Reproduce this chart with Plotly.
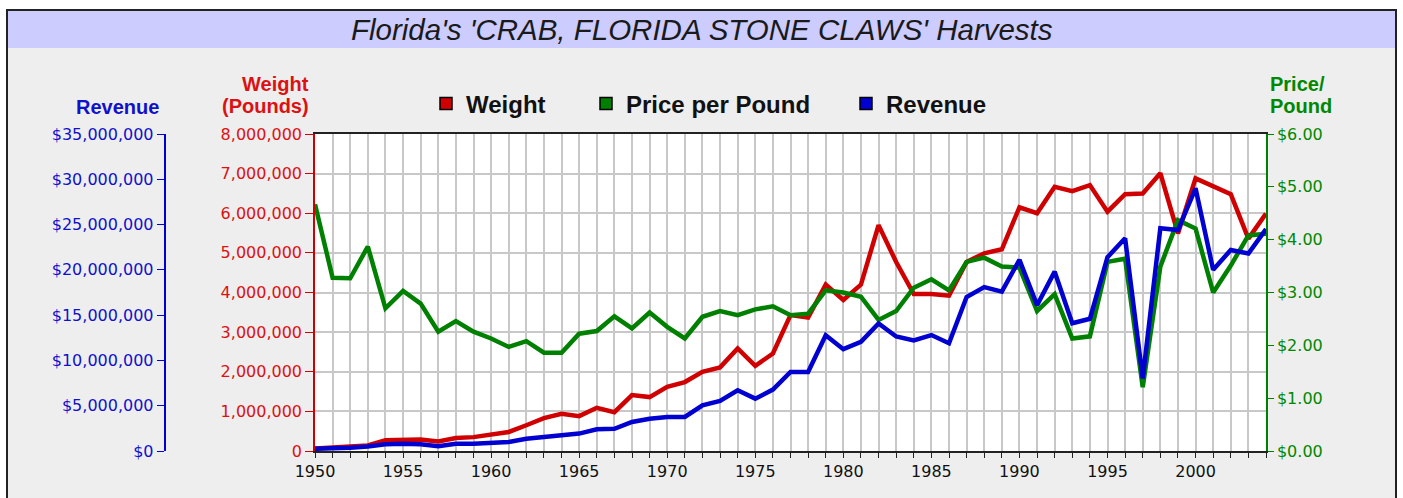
import plotly.graph_objects as go

# ---------------- data ----------------
years = list(range(1950, 2005))

weight_lbs_m = [0.06, 0.08, 0.12, 0.14, 0.27, 0.29, 0.29, 0.24, 0.33, 0.35,
                0.42, 0.48, 0.65, 0.83, 0.94, 0.88, 1.09, 0.98, 1.41, 1.36,
                1.62, 1.74, 2.00, 2.11, 2.59, 2.15, 2.46, 3.43, 3.37, 4.20,
                3.81, 4.20, 5.70, 4.77, 3.96, 3.96, 3.92, 4.77, 4.99, 5.09,
                6.15, 6.00, 6.67, 6.56, 6.71, 6.04, 6.48, 6.50, 7.01, 5.49,
                6.88, 6.69, 6.48, 5.36, 5.99]

price_per_lb = [4.67, 3.28, 3.27, 3.87, 2.70, 3.03, 2.79, 2.26, 2.46, 2.26,
                2.13, 1.97, 2.08, 1.86, 1.86, 2.22, 2.27, 2.55, 2.32, 2.62,
                2.35, 2.13, 2.54, 2.65, 2.57, 2.68, 2.74, 2.57, 2.60, 3.04,
                3.00, 2.92, 2.48, 2.65, 3.09, 3.25, 3.04, 3.58, 3.66, 3.49,
                3.47, 2.65, 2.97, 2.13, 2.17, 3.58, 3.64, 1.21, 3.49, 4.37,
                4.21, 3.00, 3.51, 4.08, 4.11]

revenue_m = [0.25, 0.25, 0.35, 0.50, 0.74, 0.81, 0.74, 0.52, 0.81, 0.81,
             0.92, 1.00, 1.36, 1.55, 1.73, 1.92, 2.40, 2.45, 3.20, 3.57,
             3.76, 3.76, 5.05, 5.53, 6.71, 5.78, 6.78, 8.73, 8.73, 12.79,
             11.24, 12.05, 14.08, 12.64, 12.20, 12.80, 11.90, 17.00, 18.10, 17.60,
             21.10, 16.10, 19.80, 14.10, 14.60, 21.40, 23.50, 8.00, 24.60, 24.40,
             29.00, 20.00, 22.20, 21.80, 24.50]

weight = [v * 1e6 for v in weight_lbs_m]
revenue = [v * 1e6 for v in revenue_m]

x_ticktext = [str(y) if y % 5 == 0 else "" for y in years]

# ---------------- style ----------------
W, H = 1403, 498
RED, GREEN, BLUE = "#D00000", "#008000", "#0000D0"
RED_T, GREEN_T, BLUE_T = "#DD1111", "#008800", "#1111CC"
TICKFONT = "DejaVu Sans"
BOLD = "Liberation Sans, Arial, sans-serif"

def px_x(p):
    return p / W

def px_y(p):
    return (H - p) / H

fig = go.Figure()

fig.add_trace(go.Scatter(x=years, y=revenue, mode="lines", yaxis="y3",
                         line=dict(color=BLUE, width=4.5), showlegend=False))
fig.add_trace(go.Scatter(x=years, y=price_per_lb, mode="lines", yaxis="y2",
                         line=dict(color=GREEN, width=4.5), showlegend=False))
fig.add_trace(go.Scatter(x=years, y=weight, mode="lines", yaxis="y",
                         line=dict(color=RED, width=4.5), showlegend=False))

# legend swatches (square boxes)
for name, col, lg in [("Weight", RED, "legend"), ("Price per Pound", GREEN, "legend2"),
                      ("Revenue", BLUE, "legend3")]:
    fig.add_trace(go.Bar(x=[None], y=[None], name=name, legend=lg,
                         marker=dict(color=col, line=dict(color="black", width=1.5))))

legfont = dict(family=BOLD, size=24, color="#111111", weight="bold")
legend_common = dict(orientation="h", yanchor="middle", xanchor="left",
                     bgcolor="rgba(0,0,0,0)", borderwidth=0, font=legfont)

def label(text, x, y, xanchor, color):
    return dict(text="<b>%s</b>" % text, xref="paper", yref="paper",
                x=px_x(x), y=px_y(y), xanchor=xanchor, yanchor="middle",
                showarrow=False, font=dict(family=BOLD, size=20, color=color))

fig.update_layout(
    width=W, height=H, autosize=False,
    margin=dict(l=0, r=0, t=0, b=0, pad=0, autoexpand=False),
    paper_bgcolor="white",
    plot_bgcolor="white",
    legend=dict(x=px_x(426), y=px_y(104), **legend_common),
    legend2=dict(x=px_x(586), y=px_y(104), **legend_common),
    legend3=dict(x=px_x(846), y=px_y(104), **legend_common),
    xaxis=dict(
        domain=[px_x(315), px_x(1266)], range=[1950, 2004],
        tickmode="array", tickvals=years, ticktext=x_ticktext,
        ticks="outside", ticklen=5, tickcolor="#222222",
        showgrid=True, gridcolor="#C8C8C8", gridwidth=1.5,
        showline=True, linecolor="#222222", linewidth=2, mirror=True,
        zeroline=False, automargin=False,
        tickfont=dict(family=TICKFONT, size=16, color="#111111"),
    ),
    yaxis=dict(
        domain=[px_y(451), px_y(134)], range=[0, 8e6],
        tickmode="linear", tick0=0, dtick=1e6, tickformat=",d",
        ticks="outside", ticklen=8, tickcolor=RED,
        showline=True, linecolor=RED, linewidth=1.5,
        showgrid=True, gridcolor="#C8C8C8", gridwidth=1.5, zeroline=False,
        automargin=False,
        tickfont=dict(family=TICKFONT, size=16, color=RED_T),
    ),
    yaxis2=dict(
        range=[0, 6], overlaying="y", side="right", anchor="x",
        tickmode="linear", tick0=0, dtick=1, tickprefix="$", tickformat=".2f",
        ticks="outside", ticklen=6, tickcolor=GREEN,
        showline=True, linecolor=GREEN, linewidth=1.5,
        showgrid=False, zeroline=False, automargin=False,
        tickfont=dict(family=TICKFONT, size=16, color=GREEN_T),
    ),
    yaxis3=dict(
        range=[0, 35e6], overlaying="y", side="left", anchor="free",
        position=px_x(164.5),
        tickmode="linear", tick0=0, dtick=5e6, tickprefix="$", tickformat=",d",
        ticks="outside", ticklen=7, tickcolor=BLUE,
        showline=True, linecolor=BLUE, linewidth=1.5,
        showgrid=False, zeroline=False, automargin=False,
        tickfont=dict(family=TICKFONT, size=16, color=BLUE_T),
    ),
    shapes=[
        dict(type="rect", xref="paper", yref="paper", layer="below",
             x0=px_x(7), x1=px_x(1396), y0=-0.1, y1=px_y(10),
             fillcolor="#EEEEEE", line=dict(color="#222222", width=2)),
        dict(type="rect", xref="paper", yref="paper", layer="below",
             x0=px_x(8), x1=px_x(1395), y0=px_y(48), y1=px_y(11),
             fillcolor="#CCCCFF", line=dict(width=0)),
        dict(type="rect", xref="x domain", yref="y domain", layer="below",
             x0=0, x1=1, y0=0, y1=1, fillcolor="white", line=dict(width=0)),
    ],
    annotations=[
        dict(text="<i>Florida's 'CRAB, FLORIDA STONE CLAWS' Harvests</i>",
             xref="paper", yref="paper", x=px_x(702), y=px_y(30),
             xanchor="center", yanchor="middle", showarrow=False,
             font=dict(family="Liberation Sans, Arial, sans-serif", size=29.5, color="#1a1a1a")),
        label("Revenue", 161, 107, "right", BLUE_T),
        label("Weight", 311, 84, "right", RED_T),
        label("(Pounds)", 311, 106, "right", RED_T),
        label("Price/", 1268, 84, "left", GREEN_T),
        label("Pound", 1268, 106, "left", GREEN_T),
    ],
)

fig.write_html(
    "out.html",
    config={"displayModeBar": False},
    post_script="document.body.style.margin='0';document.body.style.padding='0';"
                "document.documentElement.style.overflow='hidden';",
)
